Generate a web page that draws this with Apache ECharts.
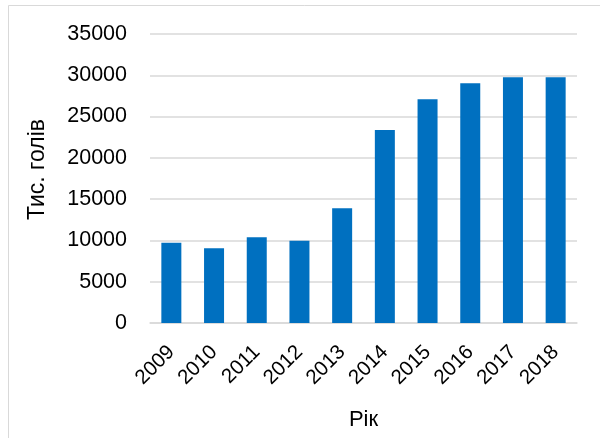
<!DOCTYPE html>
<html>
<head>
<meta charset="utf-8">
<script src="https://cdn.jsdelivr.net/npm/echarts@6/dist/echarts.min.js"></script>
<style>
  html, body { margin: 0; padding: 0; background: #fff; }
  #chart { width: 600px; height: 438px; }
</style>
</head>
<body>
<div id="chart"></div>
<script>
const years = ['2009', '2010', '2011', '2012', '2013', '2014', '2015', '2016', '2017', '2018'];
const heads = [9720, 9050, 10380, 9970, 13890, 23370, 27090, 29030, 29760, 29760];

const font = 'Liberation Sans';

const chart = echarts.init(document.getElementById('chart'));

const option = {
  backgroundColor: '#fff',
  animation: false,
  graphic: [
    {
      // рамка діаграми
      type: 'rect',
      shape: { x: 8.5, y: 5.5, width: 620, height: 460 },
      style: { fill: 'none', stroke: '#d9d9d9', lineWidth: 1 }
    }
  ],
  grid: { left: 150, right: 23, top: 34, bottom: 115 },
  xAxis: {
    type: 'category',
    data: years,
    name: 'Рік',
    nameLocation: 'middle',
    nameGap: 86,
    nameTextStyle: { fontFamily: font, fontSize: 22, color: '#000' },
    axisLine: { lineStyle: { color: '#d9d9d9', width: 1.5 } },
    axisTick: { show: false },
    axisLabel: {
      rotate: 45,
      interval: 0,
      margin: 26,
      fontFamily: font,
      fontSize: 20.5,
      color: '#000'
    }
  },
  yAxis: {
    type: 'value',
    min: 0,
    max: 35000,
    interval: 5000,
    name: 'Тис. голів',
    nameLocation: 'middle',
    nameGap: 101,
    nameTextStyle: { fontFamily: font, fontSize: 23, color: '#000', padding: [0, 0, 0, 18] },
    axisLine: { show: false },
    axisTick: { show: false },
    axisLabel: {
      margin: 23,
      fontFamily: font,
      fontSize: 21.5,
      color: '#000',
      formatter: v => String(v)
    },
    splitLine: { lineStyle: { color: '#d9d9d9', width: 1.5 } }
  },
  series: [
    {
      type: 'bar',
      data: heads,
      barWidth: 20,
      itemStyle: { color: '#0070c0' }
    }
  ]
};

chart.setOption(option);
</script>
</body>
</html>
